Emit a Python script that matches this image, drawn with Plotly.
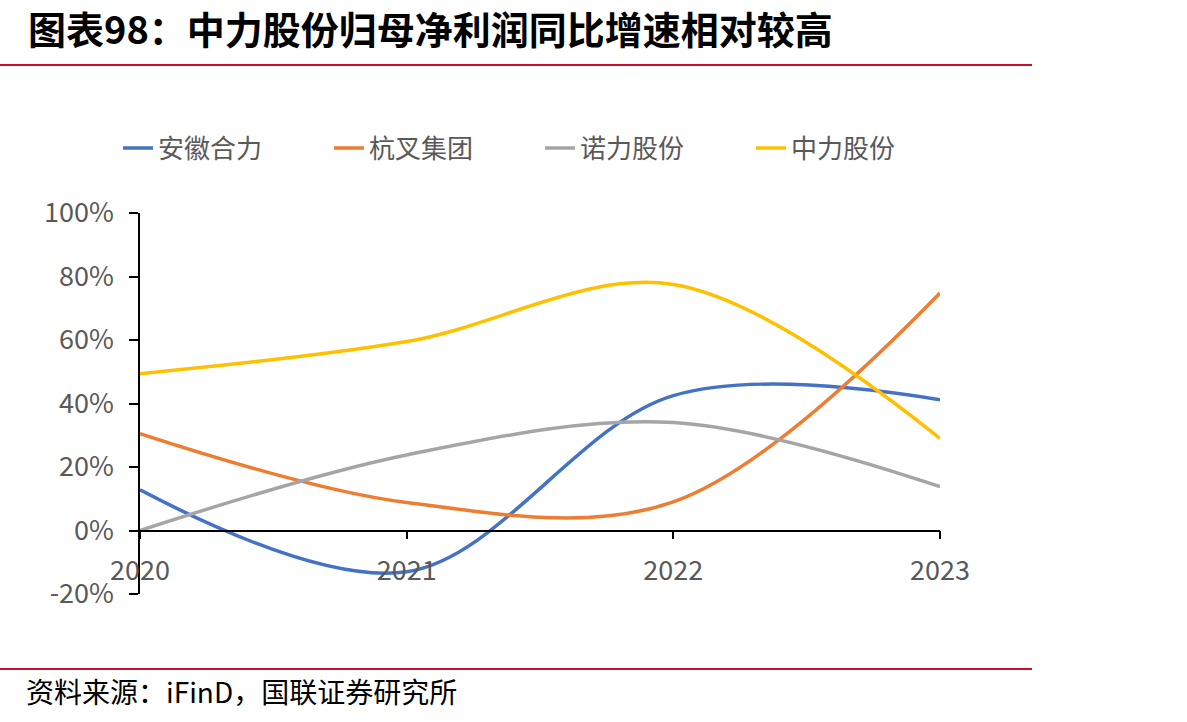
import plotly.graph_objects as go

years = [2020, 2021, 2022, 2023]
series_names = ["安徽合力", "杭叉集团", "诺力股份", "中力股份"]
anhui_heli = [0.128, -0.130, 0.425, 0.412]
hangcha = [0.305, 0.088, 0.090, 0.748]
nuoli = [0.000, 0.238, 0.340, 0.138]
zhongli = [0.494, 0.595, 0.775, 0.290]
colors = ["#4472C4", "#ED7D31", "#A5A5A5", "#FFC000"]
y_ticks = [-0.2, 0.0, 0.2, 0.4, 0.6, 0.8, 1.0]
y_tick_labels = ["-20%", "0%", "20%", "40%", "60%", "80%", "100%"]
x_tick_labels = ["2020", "2021", "2022", "2023"]

title_text = "图表98：中力股份归母净利润同比增速相对较高"
source_text = "资料来源：iFinD，国联证券研究所"

W, H = 1187, 722
L, R, T, B = 140, 940, 213, 594

fig = go.Figure()
for name, vals, c in zip(series_names, [anhui_heli, hangcha, nuoli, zhongli], colors):
    fig.add_trace(go.Scatter(
        x=years, y=vals, name=name, mode="lines",
        line=dict(color=c, width=3.5, shape="spline", smoothing=1.0),
    ))

def px_x(p):
    return (p - L) / (R - L)

def px_y(p):
    return (B - p) / (B - T)

font_main = "Noto Sans CJK SC"

fig.update_layout(
    width=W, height=H,
    margin=dict(l=L, r=W - R, t=T, b=H - B, pad=0),
    paper_bgcolor="white", plot_bgcolor="white",
    showlegend=True,
    legend=dict(
        orientation="h", x=px_x(118), xanchor="left", y=px_y(148), yanchor="middle",
        font=dict(family=font_main, size=26, color="#595959"),
        entrywidth=166, entrywidthmode="pixels",
        bgcolor="rgba(0,0,0,0)", traceorder="normal",
    ),
    xaxis=dict(
        range=[2020, 2023], tickvals=years, ticktext=x_tick_labels,
        anchor="free", position=1 / 6,
        showline=True, linecolor="#000000", linewidth=1.5,
        ticks="outside", ticklen=8, tickwidth=1.5, tickcolor="#000000",
        ticklabelstandoff=8,
        tickfont=dict(family=font_main, size=27, color="#595959"),
        showgrid=False, zeroline=False,
    ),
    yaxis=dict(
        range=[-0.2, 1.0], tickvals=y_ticks, ticktext=y_tick_labels,
        showline=True, linecolor="#000000", linewidth=1.5,
        ticks="outside", ticklen=9, tickwidth=1.5, tickcolor="#000000",
        ticklabelstandoff=10,
        tickfont=dict(family=font_main, size=27, color="#595959"),
        showgrid=False, zeroline=False,
    ),
    shapes=[
        dict(type="line", xref="paper", yref="paper", x0=px_x(0), x1=px_x(1032),
             y0=px_y(65), y1=px_y(65), line=dict(color="#C8102E", width=2)),
        dict(type="line", xref="paper", yref="paper", x0=px_x(0), x1=px_x(1032),
             y0=px_y(669), y1=px_y(669), line=dict(color="#C8102E", width=2)),
    ],
    annotations=[
        dict(text=title_text, xref="paper", yref="paper", x=px_x(26), y=px_y(27),
             xanchor="left", yanchor="middle", showarrow=False,
             font=dict(family=font_main, size=38, color="#000000", weight="bold")),
        dict(text=source_text, xref="paper", yref="paper", x=px_x(24), y=px_y(691),
             xanchor="left", yanchor="middle", showarrow=False,
             font=dict(family=font_main, size=28, color="#000000")),
    ],
)

fig.write_html("out.html")
